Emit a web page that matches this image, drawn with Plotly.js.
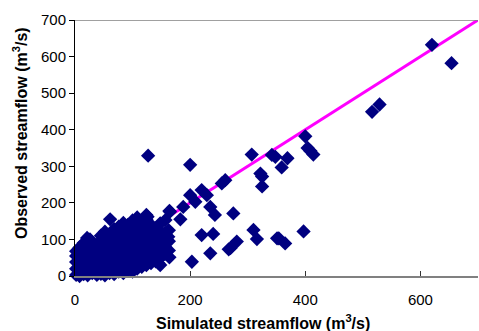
<!DOCTYPE html>
<html>
<head>
<meta charset="utf-8">
<script src="https://cdn.plot.ly/plotly-3.0.1.min.js"></script>
<style>
html,body{margin:0;padding:0;background:#fff;}
#chart{width:479px;height:331px;}
</style>
</head>
<body>
<div id="chart"></div>
<script>
// Outlying points (simulated, observed) in m3/s
var outlierSim = [620,654,516,529,400,404,409,414,307,342,348,369,359,322,325,325,275,310,316,281,270,354,365,397,127,200,261,255,220,229,200,209,188,164,183,235,243,220,240,267,235,203,164,162,157,148,351,61,126,26,165,139,145,21,52];
var outlierObs = [632,582,449,469,382,350,342,332,332,331,326,322,297,280,272,245,171,126,101,94,76,103,89,122,329,304,262,253,235,221,221,203,189,178,155,189,167,112,115,73,62,39,51,107,153,144,103,155,162,100,176,98,35,104,121];

// Dense cluster of low flows
var clusterSim = [2,2,2,2,2, 8,8,8,8,8,8, 15,15,15,15,15,15, 22,22,22,22,22,22, 30,30,30,30,30,30, 38,38,38,38,38,38, 45,45,45,45,45,45,45, 52,52,52,52,52,52,52, 60,60,60,60,60,60,60, 68,68,68,68,68,68,68,68, 76,76,76,76,76,76,76,76, 84,84,84,84,84,84,84,84,84, 92,92,92,92,92,92,92,92, 100,100,100,100,100,100,100,100,100, 108,108,108,108,108,108,108,108,108, 116,116,116,116,116,116,116,116, 124,124,124,124,124,124,124,124,124, 132,132,132,132,132,132,132, 140,140,140,140,140,140, 148,148,148,148,148,148, 156,156,156,156, 163,163,163];
var clusterObs = [3,20,38,55,68, 0,15,30,48,62,78, 5,22,40,58,75,90, 2,18,35,52,68,85, 8,25,44,60,78,92, 3,20,38,55,70,85, 6,24,42,60,78,95,110, 2,18,36,54,72,90,108, 8,26,44,62,80,98,115, 5,22,40,58,76,94,112,128, 12,30,48,66,84,102,120,135, 8,26,44,62,80,98,116,132,145, 15,33,51,69,87,105,123,140, 12,30,48,66,84,102,120,138,152, 20,38,56,74,92,110,128,146,160, 25,43,61,79,97,115,133,150, 30,48,66,84,102,120,138,155,167, 35,52,70,88,106,124,140, 40,58,76,94,112,130, 30,50,68,86,104,122, 60,80,100,118, 70,95,125];

// 1:1 line
var lineX = [0, 700];
var lineY = [0, 700];

var xTicks = [0, 200, 400, 600];
var yTicks = [0, 100, 200, 300, 400, 500, 600, 700];

var xTitle = 'Simulated streamflow (m<sup>3</sup>/s)';
var yTitle = 'Observed streamflow (m<sup>3</sup>/s)';

var sim = clusterSim.concat(outlierSim);
var obs = clusterObs.concat(outlierObs);

var font = 'Liberation Sans, Arial, Helvetica, sans-serif';

var traces = [
  {x: lineX, y: lineY, mode: 'lines', type: 'scatter',
   line: {color: '#FF00FF', width: 3}, hoverinfo: 'skip', cliponaxis: false},
  {x: sim, y: obs, mode: 'markers', type: 'scatter', cliponaxis: false,
   marker: {symbol: 'diamond', size: 11, color: '#000080', line: {width: 0}}}
];

// plot area: left 75px, right 478px, top 20px, bottom 276px
var L = 75, R = 478, T = 20, B = 276;
function px2x(p) { return (p - L) / (R - L); }
function py2y(p) { return (B - p) / (B - T); }

var layout = {
  width: 479, height: 331,
  margin: {l: L, r: 479 - R, t: T, b: 331 - B},
  paper_bgcolor: '#fff', plot_bgcolor: '#fff',
  showlegend: false,
  font: {family: font, color: '#000', size: 15},
  xaxis: {
    range: [0, 700], tickvals: xTicks, ticktext: xTicks.map(String),
    showgrid: false, zeroline: false, showline: true, linecolor: '#808080', linewidth: 1.5,
    ticks: 'inside', ticklen: 5, tickcolor: '#333', tickwidth: 1,
    tickfont: {size: 15, family: font, color: '#000'},
    ticklabelstandoff: 9
  },
  yaxis: {
    range: [0, 700], tickvals: yTicks, ticktext: yTicks.map(String),
    showgrid: false, zeroline: false, showline: true, linecolor: '#000', linewidth: 1,
    ticks: 'outside', ticklen: 5, tickcolor: '#000', tickwidth: 1,
    tickfont: {size: 15, family: font, color: '#000'}
  },
  annotations: [
    {text: '<b>' + xTitle + '</b>', xref: 'paper', yref: 'paper',
     x: px2x(263), y: py2y(322), xanchor: 'center', yanchor: 'middle', showarrow: false,
     font: {size: 16, family: font, color: '#000'}},
    {text: '<b>' + yTitle + '</b>', xref: 'paper', yref: 'paper', textangle: -90,
     x: px2x(20), y: py2y(133), xanchor: 'center', yanchor: 'middle', showarrow: false,
     font: {size: 16, family: font, color: '#000'}}
  ],
  shapes: [
    {type: 'line', xref: 'x', yref: 'y', x0: 0, x1: 700, y0: 700, y1: 700,
     line: {color: '#808080', width: 1.5}}
  ]
};

Plotly.newPlot('chart', traces, layout, {displayModeBar: false, staticPlot: true});
</script>
</body>
</html>
